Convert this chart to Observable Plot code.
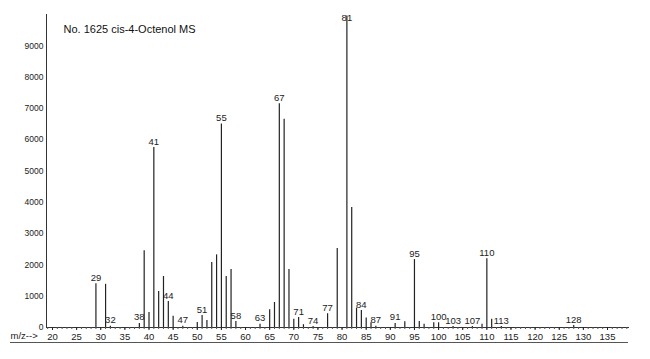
<!DOCTYPE html>
<html>
<head>
<meta charset="utf-8">
<script src="https://cdn.jsdelivr.net/npm/d3@7"></script>
<script src="https://cdn.jsdelivr.net/npm/@observablehq/plot@0.6"></script>
<style>
  html, body { margin: 0; padding: 0; background: #fff; }
  #wrap { position: relative; width: 650px; height: 359px; font-family: "Liberation Sans", Arial, sans-serif; }
  #under { position: absolute; left: 10px; top: 342px; width: 618px; height: 0; border-top: 1px solid #555; }
</style>
</head>
<body>
<div id="wrap"><div id="under"></div></div>
<script>
const title = "No. 1625 cis-4-Octenol MS";
const axisLabel = "m/z-->";
const mz = [29, 31, 32, 38, 39, 40, 41, 42, 43, 44, 45, 47, 50, 51, 52, 53, 54, 55, 56, 57, 58,
  63, 65, 66, 67, 68, 69, 70, 71, 72, 74, 77, 79, 81, 82, 83, 84, 85, 86, 87, 91, 93,
  95, 96, 97, 99, 100, 103, 107, 109, 110, 111, 113, 128];
const intensity = [1400, 1380, 40, 130, 2450, 480, 5750, 1150, 1630, 830, 360, 40, 160, 380, 220, 2080, 2320, 6500, 1630, 1850, 190,
  100, 570, 800, 7150, 6650, 1850, 260, 320, 90, 30, 440, 2520, 9950, 3830, 620, 540, 300, 150, 40, 130, 180,
  2170, 190, 100, 150, 150, 30, 30, 100, 2200, 260, 30, 60];
const labelled = [29, 32, 38, 41, 44, 47, 51, 55, 58, 63, 67, 71, 74, 77, 81, 84, 87, 91, 95, 100, 103, 107, 110, 113, 128];
const yTicks = [0, 1000, 2000, 3000, 4000, 5000, 6000, 7000, 8000, 9000];
const xTicks = [20, 25, 30, 35, 40, 45, 50, 55, 60, 65, 70, 75, 80, 85, 90, 95, 100, 105, 110, 115, 120, 125, 130, 135];
const xMinor = d3.range(19, 140);

const peaks = mz.map((m, i) => ({mz: m, v: intensity[i]}));
const labels = peaks.filter(d => labelled.includes(d.mz));

const font = "Liberation Sans, Arial, sans-serif";
const chart = Plot.plot({
  width: 650,
  height: 359,
  marginLeft: 46,
  marginRight: 22,
  marginTop: 14,
  marginBottom: 32,
  style: {fontFamily: font, background: "#fff", color: "#222"},
  x: {domain: [18.76, 139.35]},
  y: {domain: [0, 10000]},
  marks: [
    Plot.frame({anchor: "left", stroke: "#333"}),
    Plot.frame({anchor: "bottom", stroke: "#333"}),
    Plot.axisY({ticks: yTicks, tickSize: 0, tickPadding: 3, fontSize: 8.5, label: null, tickFormat: d => String(d)}),
    Plot.axisX({ticks: xMinor, tickSize: 2, tickFormat: () => "", label: null, stroke: "#555"}),
    Plot.axisX({ticks: xTicks, tickSize: 3, tickPadding: 3, fontSize: 9.5, label: null, tickFormat: d => String(d)}),
    Plot.ruleX(peaks, {x: "mz", y1: 0, y2: "v", stroke: "#222", strokeWidth: 1.2}),
    Plot.text(labels, {x: "mz", y: d => Math.min(d.v, 9700), text: d => String(d.mz), dy: -6, fontSize: 9.5, fill: "#222"}),
    Plot.text([title], {frameAnchor: "top-left", dx: 17, dy: 11, fontSize: 11, textAnchor: "start", fill: "#111"}),
    Plot.text([axisLabel], {frameAnchor: "bottom-left", dx: -36, dy: 11, fontSize: 9.5, textAnchor: "start", fill: "#222"})
  ]
});
document.getElementById("wrap").prepend(chart);
</script>
</body>
</html>
